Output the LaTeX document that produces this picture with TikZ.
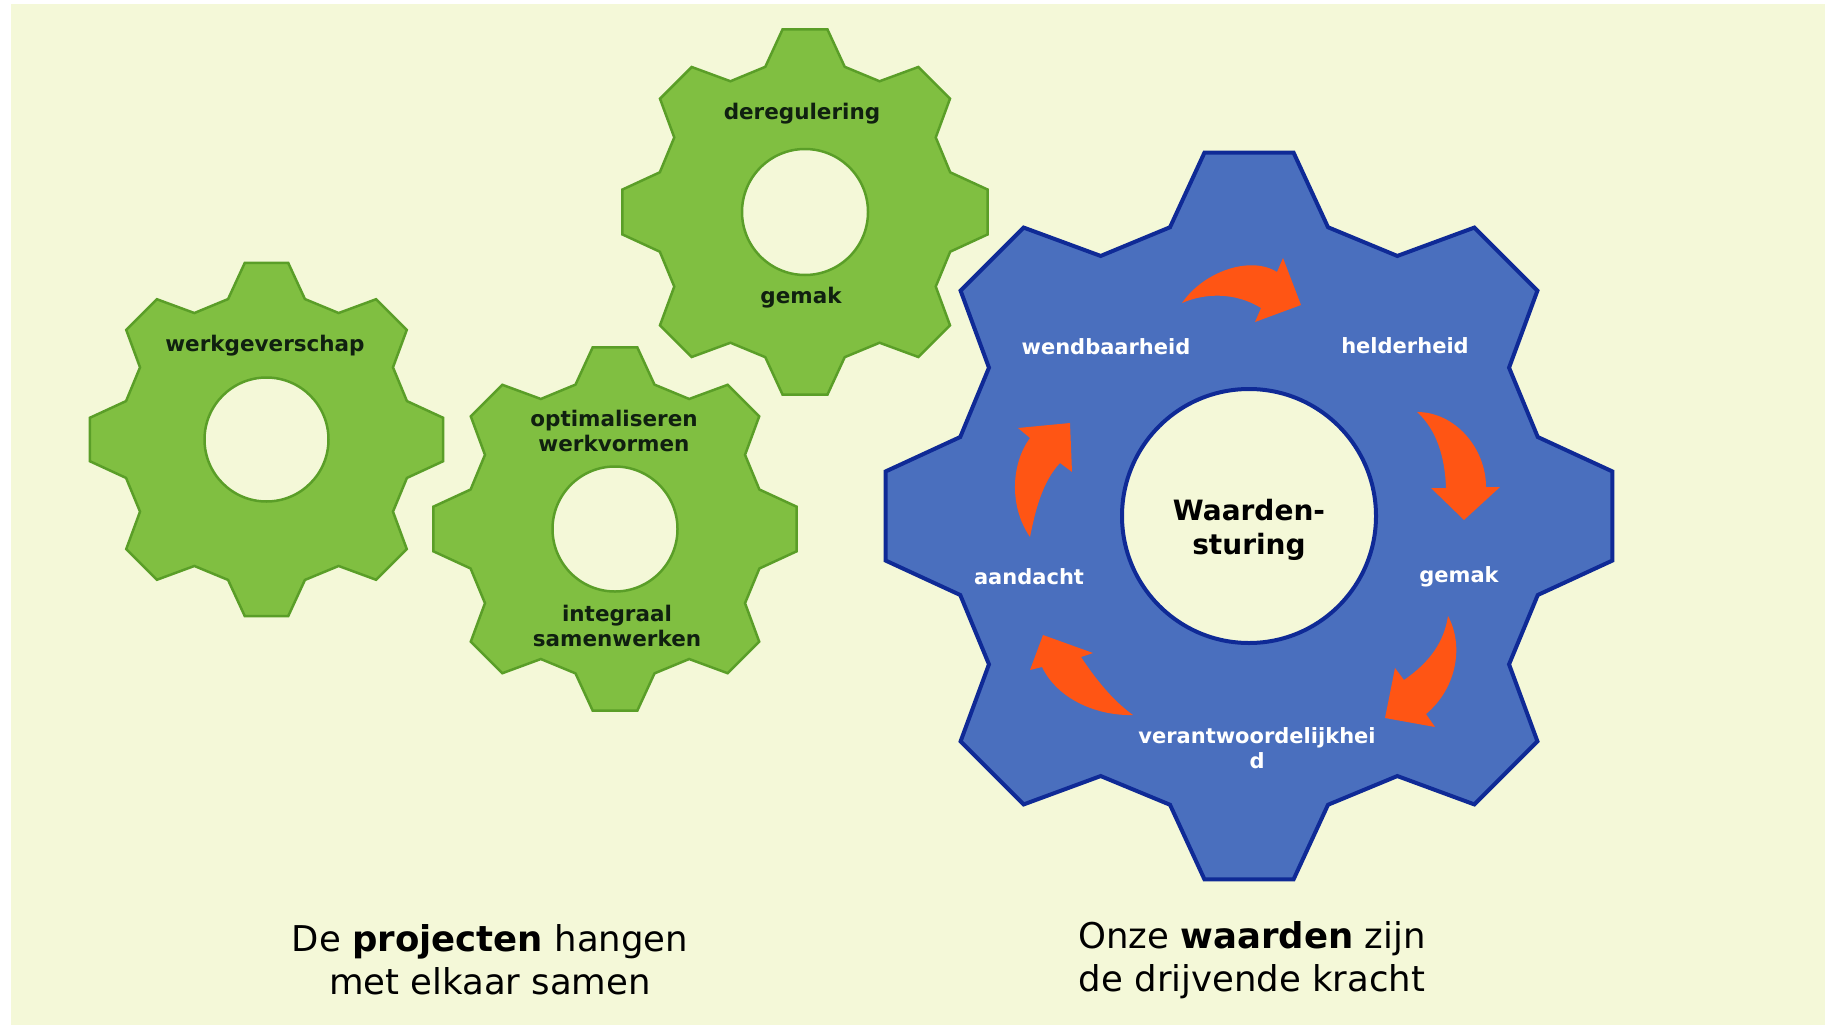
\documentclass[tikz,border=0pt]{standalone}
\usepackage{fontspec}
\setmainfont{DejaVu Sans}
\definecolor{cream}{HTML}{F4F8D8}
\definecolor{gfill}{HTML}{80BF41}
\definecolor{gline}{HTML}{5A9E28}
\definecolor{bfill}{HTML}{4A6FBE}
\definecolor{bline}{HTML}{0F2A96}
\definecolor{orangeA}{HTML}{FF5514}
\definecolor{gtextc}{HTML}{102010}
\newcommand{\mygear}[5]{%
  \begin{scope}[shift={(#1,#2)}]
    \path[#4] ({-15.3}:{0.818*#3})
      \foreach \a in {0,45,...,315}{
        -- ({\a-15.3}:{0.818*#3}) -- ({\a-7}:#3) -- ({\a+7}:#3) -- ({\a+15.3}:{0.818*#3})
      } -- cycle;
    \path[#4,fill=cream] (0,0) circle[radius=#5];
  \end{scope}}
\begin{document}
\begin{tikzpicture}[x=1pt,y=-1pt,
  greengear/.style={fill=gfill,draw=gline,line width=2.5pt,line join=miter},
  bluegear/.style={fill=bfill,draw=bline,line width=4pt,line join=miter},
  orarrow/.style={fill=orangeA,draw=none},
  gtext/.style={font=\fontsize{21.5}{25}\selectfont\bfseries,text=gtextc,align=center,inner sep=0pt},
  wtext/.style={font=\fontsize{21}{25}\selectfont\bfseries,text=white,align=center,inner sep=0pt},
  ctext/.style={font=\fontsize{28}{34}\selectfont\bfseries,text=black,align=center,inner sep=0pt},
  captext/.style={font=\fontsize{35.5}{43}\selectfont,text=black,align=center,inner sep=0pt}]
\useasboundingbox (0,0) rectangle (1825,1025);
\fill[white] (0,0) rectangle (1825,1025);
\fill[cream] (11,4) rectangle (1825,1025);

% green gears
\mygear{266.5}{439.5}{178}{greengear}{62}
\mygear{615}{529}{183}{greengear}{62.5}
\mygear{805}{212}{184}{greengear}{63}
% blue gear
\mygear{1249}{516}{366}{bluegear}{127}

% orange arrows
\fill[orarrow] (1182,303) .. controls (1203,272) and (1250,255) .. (1277,272)
  -- (1283,258) -- (1301,305) -- (1255,322) -- (1261,308)
  .. controls (1235,292) and (1205,293) .. (1182,303) -- cycle;
\fill[orarrow] (1417,412) .. controls (1455,412) and (1486,448) .. (1486,487)
  -- (1500,487) -- (1464,520) -- (1431,488) -- (1446,488)
  .. controls (1445,458) and (1437,430) .. (1417,412) -- cycle;
\fill[orarrow] (1448,616) .. controls (1465,648) and (1455,690) .. (1426,714)
  -- (1435,727) -- (1385,718) -- (1395,668) -- (1404,680)
  .. controls (1430,662) and (1444,642) .. (1448,616) -- cycle;
\fill[orarrow] (1133,715) .. controls (1098,716) and (1058,700) .. (1042,667)
  -- (1030,670) -- (1043,635) -- (1093,653) -- (1081,657)
  .. controls (1095,678) and (1112,700) .. (1133,715) -- cycle;
\fill[orarrow] (1030,537) .. controls (1008,505) and (1012,462) .. (1030,438)
  -- (1018,428) -- (1070,423) -- (1072,472) -- (1060,463)
  .. controls (1042,482) and (1035,512) .. (1030,537) -- cycle;

% green gear texts
\node[gtext] (werk) at (265,346) {werkgeverschap};
\node[gtext] (dereg) at (802,114) {deregulering};
\node[gtext] (gemakg) at (801,298) {gemak};
\node[gtext] (optim) at (614,431) {optimaliseren\\werkvormen};
\node[gtext] (integ) at (617,626) {integraal\\samenwerken};

% blue gear texts
\node[wtext] (wend) at (1106,347) {wendbaarheid};
\node[wtext] (helder) at (1405,346) {helderheid};
\node[wtext] (gemakb) at (1459,577) {gemak};
\node[wtext] (aand) at (1029,577) {aandacht};
\node[wtext] (verant) at (1257,748) {verantwoordelijkhei\\d};
\node[ctext] (waard) at (1249,530) {Waarden-\\sturing};

% captions
\node[captext] (cap1) at (490,960) {De \textbf{projecten} hangen\\met elkaar samen};
\node[captext] (cap2) at (1252,960) {Onze \textbf{waarden} zijn\\de drijvende kracht};
\end{tikzpicture}
\end{document}
